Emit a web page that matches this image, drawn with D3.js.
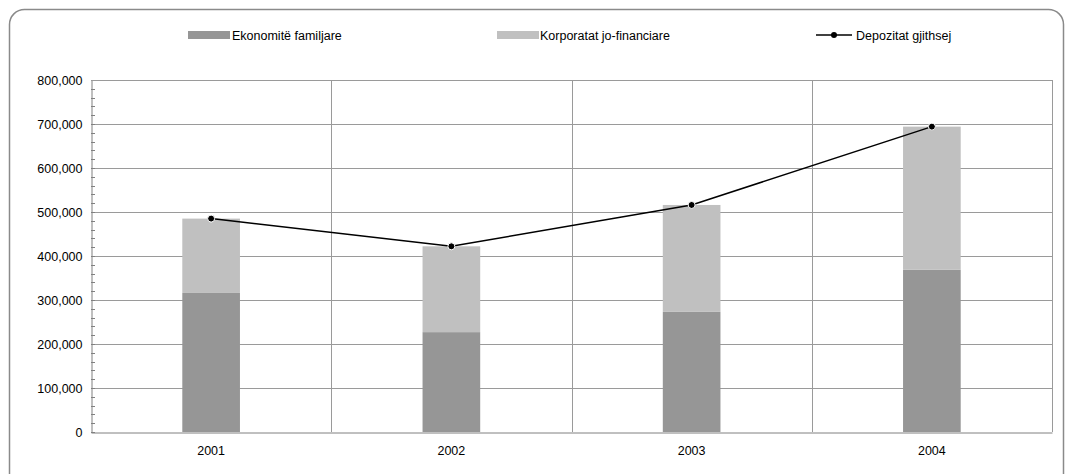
<!DOCTYPE html>
<html><head><meta charset="utf-8">
<script src="https://cdn.jsdelivr.net/npm/d3@7"></script>
<style>body{margin:0;background:#fff}svg{display:block;font-family:"Liberation Sans",Arial,sans-serif}</style>
</head><body><svg id="c" width="1068" height="474"></svg>
<script>
const categories = ["2001", "2002", "2003", "2004"];
const households = [316000, 227000, 273000, 369000];
const corporates = [169000, 195000, 243000, 325000];
const totals = [485000, 422000, 516000, 694000];
const yTicks = [0, 100000, 200000, 300000, 400000, 500000, 600000, 700000, 800000];
const seriesNames = ["Ekonomitë familjare", "Korporatat jo-financiare", "Depozitat gjithsej"];

const svg = d3.select("#c");
const m = {l: 91, r: 1052, t: 80, b: 432};

svg.append("rect").attr("x", 9.5).attr("y", 9.5).attr("width", 1054).attr("height", 480)
  .attr("rx", 15).attr("fill", "none").attr("stroke", "#8a8a8a").attr("stroke-width", 1.5);

const x = d3.scaleBand().domain(categories).range([m.l, m.r]);
const y = d3.scaleLinear().domain([0, 800000]).range([m.b, m.t]);

// horizontal gridlines
svg.append("g").selectAll("line").data(yTicks.slice(1)).join("line")
  .attr("x1", m.l).attr("x2", m.r)
  .attr("y1", d => Math.round(y(d)) + 0.5).attr("y2", d => Math.round(y(d)) + 0.5)
  .attr("stroke", "#9a9a9a").attr("stroke-width", 1);
// vertical gridlines
svg.append("g").selectAll("line").data(categories.slice(1)).join("line")
  .attr("x1", d => Math.round(x(d)) + 0.5).attr("x2", d => Math.round(x(d)) + 0.5)
  .attr("y1", m.t).attr("y2", m.b)
  .attr("stroke", "#9a9a9a").attr("stroke-width", 1);
// right border
svg.append("line").attr("x1", m.r + 0.5).attr("x2", m.r + 0.5).attr("y1", m.t).attr("y2", m.b)
  .attr("stroke", "#9a9a9a");

// bars
const bw = x.bandwidth() * 0.24;
const g = svg.append("g");
g.selectAll(".h").data(categories).join("rect")
  .attr("x", (d) => x(d) + x.bandwidth() / 2 - bw / 2).attr("width", bw)
  .attr("y", (d, i) => y(households[i])).attr("height", (d, i) => y(0) - y(households[i]))
  .attr("fill", "#969696");
g.selectAll(".c").data(categories).join("rect")
  .attr("x", (d) => x(d) + x.bandwidth() / 2 - bw / 2).attr("width", bw)
  .attr("y", (d, i) => y(households[i] + corporates[i])).attr("height", (d, i) => y(households[i]) - y(households[i] + corporates[i]))
  .attr("fill", "#c0c0c0");

// y axis
const ya = d3.axisLeft(y).tickValues(yTicks).tickSize(0).tickPadding(9)
  .tickFormat(d => d === 0 ? "0" : d3.format(",")(d));
const yg = svg.append("g").attr("transform", `translate(${m.l + 0.5},0)`).call(ya);
yg.select(".domain").attr("stroke", "#808080");
yg.selectAll("text").attr("font-size", 12.5).attr("fill", "#000").attr("font-family", "Liberation Sans, Arial, sans-serif");
// minor ticks
const minor = d3.range(0, 800001, 20000);
svg.append("g").selectAll("line").data(minor).join("line")
  .attr("x1", m.l).attr("x2", m.l + 4)
  .attr("y1", d => Math.round(y(d)) + 0.5).attr("y2", d => Math.round(y(d)) + 0.5)
  .attr("stroke", "#808080");
// top border
svg.append("line").attr("x1", m.l).attr("x2", m.r).attr("y1", m.t + 0.5).attr("y2", m.t + 0.5).attr("stroke", "#9a9a9a");

// x axis
const xa = d3.axisBottom(x).tickSize(0).tickPadding(14);
const xg = svg.append("g").attr("transform", `translate(0,${m.b + 0.5})`).call(xa);
xg.select(".domain").attr("stroke", "#808080");
xg.selectAll("text").attr("font-size", 12.5).attr("fill", "#000").attr("font-family", "Liberation Sans, Arial, sans-serif");

// total line
const line = d3.line().x((d, i) => x(categories[i]) + x.bandwidth() / 2).y(d => y(d));
svg.append("path").datum(totals).attr("d", line).attr("fill", "none").attr("stroke", "#000").attr("stroke-width", 1.5);
svg.append("g").selectAll("circle").data(totals).join("circle")
  .attr("cx", (d, i) => x(categories[i]) + x.bandwidth() / 2).attr("cy", d => y(d))
  .attr("r", 3.5).attr("fill", "#000").attr("stroke", "#fff").attr("stroke-width", 1);

// legend
const lg = svg.append("g").attr("font-size", 12.5).attr("font-family", "Liberation Sans, Arial, sans-serif");
const ly = 35;
lg.append("rect").attr("x", 188).attr("y", ly - 4).attr("width", 42).attr("height", 8).attr("fill", "#969696");
lg.append("text").attr("x", 232).attr("y", ly + 4.5).text(seriesNames[0]);
lg.append("rect").attr("x", 497).attr("y", ly - 4).attr("width", 42).attr("height", 8).attr("fill", "#c0c0c0");
lg.append("text").attr("x", 540).attr("y", ly + 4.5).text(seriesNames[1]);
lg.append("line").attr("x1", 816).attr("x2", 852).attr("y1", ly).attr("y2", ly).attr("stroke", "#000").attr("stroke-width", 1.5);
lg.append("circle").attr("cx", 834).attr("cy", ly).attr("r", 3).attr("fill", "#000");
lg.append("text").attr("x", 856).attr("y", ly + 4.5).text(seriesNames[2]);
</script></body></html>
